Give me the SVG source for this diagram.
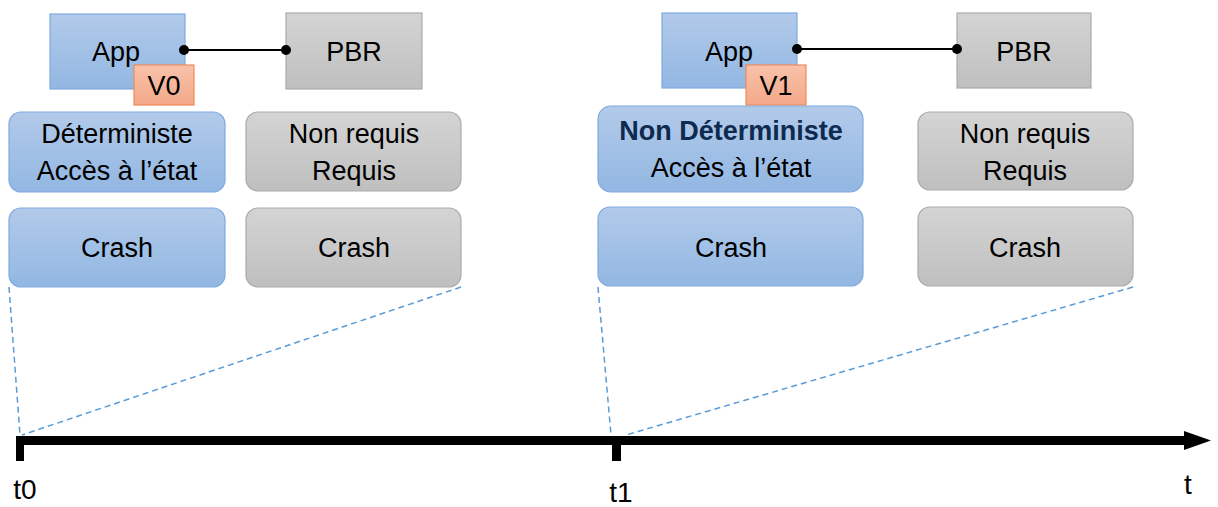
<svg xmlns="http://www.w3.org/2000/svg" width="1218" height="507" viewBox="0 0 1218 507">
<defs>
<linearGradient id="gBlue" x1="0" y1="0" x2="0" y2="1"><stop offset="0" stop-color="#B2CAEA"/><stop offset="1" stop-color="#92B7E2"/></linearGradient>
<linearGradient id="gGray" x1="0" y1="0" x2="0" y2="1"><stop offset="0" stop-color="#D4D4D4"/><stop offset="1" stop-color="#BFBFBF"/></linearGradient>
<linearGradient id="gOrange" x1="0" y1="0" x2="0" y2="1"><stop offset="0" stop-color="#F8C2AA"/><stop offset="1" stop-color="#F3A888"/></linearGradient>
<marker id="dot" viewBox="0 0 10 10" refX="5" refY="5" markerWidth="10" markerHeight="10" markerUnits="userSpaceOnUse"><circle cx="5" cy="5" r="5" fill="#000"/></marker>
</defs>
<style>
.blue{fill:url(#gBlue);stroke:#7FAADF;stroke-width:1.2}
.gray{fill:url(#gGray);stroke:#ABABAB;stroke-width:1.2}
.orange{fill:url(#gOrange);stroke:#F08A58;stroke-width:1.2}
text{font-family:"Liberation Sans",Arial,sans-serif;font-size:27px;fill:#000;text-anchor:middle}
.bold{font-weight:bold;fill:#0E2A4F}
.axis{font-size:28px}
.dash{fill:none;stroke:#5B9BD5;stroke-width:1.5;stroke-dasharray:6 4}
.conn{stroke:#000;stroke-width:2;fill:none;marker-start:url(#dot);marker-end:url(#dot)}
</style>
<rect width="1218" height="507" fill="#fff"/>

<g id="timeline">
<rect x="16" y="436" width="1170" height="9" fill="#000"/>
<polygon points="1184,431 1211,440.5 1184,450" fill="#000"/>
<rect x="16" y="436" width="8" height="25" fill="#000"/>
<rect x="612" y="436" width="9" height="25" fill="#000"/>
<text class="axis" x="25" y="499">t0</text>
<text class="axis" x="621" y="502">t1</text>
<text class="axis" x="1188" y="494">t</text>
</g>

<g id="app0">
<rect class="blue" x="50" y="14" width="135" height="75"/>
<text x="116" y="61">App</text>
</g>
<g id="pbr0">
<rect class="gray" x="286" y="13" width="136" height="76"/>
<text x="354" y="61">PBR</text>
</g>
<g id="v0">
<rect class="orange" x="134" y="65" width="60" height="40"/>
<text x="164" y="95">V0</text>
</g>
<g id="det0">
<rect class="blue" x="9" y="112" width="216" height="80" rx="12"/>
<text x="117" y="143">Déterministe</text>
<text x="117" y="180">Accès à l’état</text>
</g>
<g id="req0">
<rect class="gray" x="246" y="112" width="215" height="79" rx="12"/>
<text x="354" y="143">Non requis</text>
<text x="354" y="180">Requis</text>
</g>
<g id="crash0a">
<rect class="blue" x="9" y="208" width="216" height="79" rx="12"/>
<text x="117" y="257">Crash</text>
</g>
<g id="crash0b">
<rect class="gray" x="246" y="208" width="215" height="79" rx="12"/>
<text x="354" y="257">Crash</text>
</g>

<g id="app1">
<rect class="blue" x="662" y="13" width="135" height="75"/>
<text x="729" y="61">App</text>
</g>
<g id="pbr1">
<rect class="gray" x="957" y="13" width="134" height="75"/>
<text x="1024" y="61">PBR</text>
</g>
<g id="v1">
<rect class="orange" x="746" y="65" width="60" height="40"/>
<text x="776" y="95">V1</text>
</g>
<g id="det1">
<rect class="blue" x="598" y="106" width="265" height="86" rx="13"/>
<text class="bold" x="731" y="140">Non Déterministe</text>
<text x="731" y="177">Accès à l’état</text>
</g>
<g id="req1">
<rect class="gray" x="918" y="112" width="215" height="78" rx="12"/>
<text x="1025" y="143">Non requis</text>
<text x="1025" y="180">Requis</text>
</g>
<g id="crash1a">
<rect class="blue" x="598" y="207" width="265" height="79" rx="12"/>
<text x="731" y="257">Crash</text>
</g>
<g id="crash1b">
<rect class="gray" x="918" y="207" width="215" height="79" rx="12"/>
<text x="1025" y="257">Crash</text>
</g>

<g id="connectors">
<line class="conn" x1="184" y1="50" x2="286" y2="50"/>
<line class="conn" x1="797" y1="49" x2="957" y2="49"/>
<line class="dash" x1="9" y1="287" x2="20" y2="435"/>
<line class="dash" x1="461" y1="287" x2="22" y2="435"/>
<line class="dash" x1="598" y1="287" x2="611" y2="435"/>
<line class="dash" x1="1133" y1="287" x2="626" y2="435"/>
</g>
</svg>
